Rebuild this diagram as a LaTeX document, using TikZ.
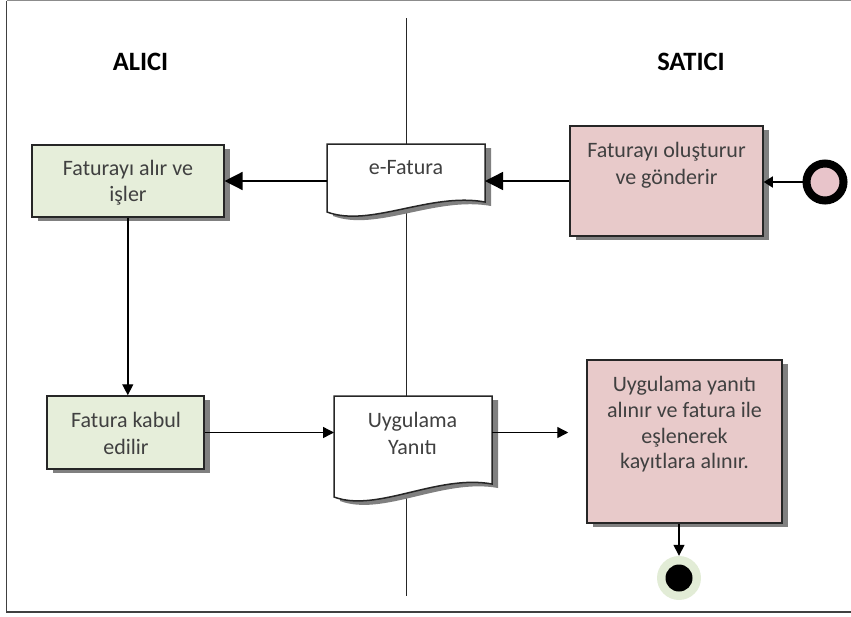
\documentclass[tikz,border=0pt]{standalone}
\usepackage{fontspec}
\setmainfont{Carlito}
\usetikzlibrary{arrows.meta,shadows}
\definecolor{boxgreen}{RGB}{230,238,218}
\definecolor{boxpink}{RGB}{232,202,202}
\definecolor{startpink}{RGB}{232,196,202}
\definecolor{endgreen}{RGB}{226,236,214}
\definecolor{txtgray}{RGB}{64,64,64}
\definecolor{shadowgray}{RGB}{128,128,128}
\begin{document}
\begin{tikzpicture}[x=1pt,y=-1pt,
 actbox/.style={draw=black!85, line width=1.5pt, inner sep=0pt,
   drop shadow={shadow xshift=6pt, shadow yshift=-4pt, opacity=1, fill=shadowgray}},
 bodytxt/.style={anchor=base, inner sep=0pt, text=txtgray, font=\fontsize{22}{26}\selectfont},
 titletxt/.style={anchor=base, inner sep=0pt, font=\fontsize{26.5}{30}\selectfont\bfseries},
 flow/.style={line width=1.4pt, -{Triangle[length=11pt,width=11pt]}},
 smallflow/.style={line width=1.4pt, -{Triangle[length=9pt,width=11pt]}},
 bigflow/.style={line width=1.4pt, -{Triangle[length=18pt,width=18pt]}},
 docpath/.style={draw=black!85, line width=1.5pt, fill=white},
 docshadow/.style={fill=shadowgray},
 anchorbox/.style={inner sep=0pt, outer sep=0pt},
]
\useasboundingbox (0,0) rectangle (851,616);
% frame
\draw[black!45, line width=1.2pt] (851,0.6) -- (6.5,0.6);
\draw[black!75, line width=1.3pt] (6.5,0.6) -- (6.5,612) -- (851,612);
% lane divider
\draw[black!85, line width=1.3pt] (406.7,18) -- (406.7,596);

% titles
\node[titletxt] (alici) at (140.5,70) {ALICI};
\node[titletxt] (satici) at (691,70) {SATICI};

% activity boxes
\node[actbox, fill=boxgreen, minimum width=192pt, minimum height=72pt] (b1) at (127.8,181) {};
\node[actbox, fill=boxgreen, minimum width=157pt, minimum height=73pt] (b2) at (125.5,432.5) {};
\node[actbox, fill=boxpink, minimum width=193pt, minimum height=110pt] (b3) at (666.5,181) {};
\node[actbox, fill=boxpink, minimum width=195pt, minimum height=163pt] (b4) at (684.5,441.5) {};

% documents
\node[anchorbox, minimum width=158pt, minimum height=68pt] (efat) at (406,178) {};
\begin{scope}[shift={(6,4)}]
\fill[docshadow] (327,144) -- (485,144) -- (485,202) .. controls (430,192) and (370,228) .. (327,212) -- cycle;
\end{scope}
\path[docpath] (327,144) -- (485,144) -- (485,202) .. controls (430,192) and (370,228) .. (327,212) -- cycle;

\node[anchorbox, minimum width=158pt, minimum height=88pt] (uyg) at (413,440) {};
\begin{scope}[shift={(6,4)}]
\fill[docshadow] (334,396) -- (492,396) -- (492,484) .. controls (437,474) and (377,513) .. (334,497) -- cycle;
\end{scope}
\path[docpath] (334,396) -- (492,396) -- (492,484) .. controls (437,474) and (377,513) .. (334,497) -- cycle;

% texts
\node[bodytxt] (t1a) at (128,175) {Faturayı alır ve};
\node[bodytxt] (t1b) at (128,201) {işler};
\node[bodytxt] (t2a) at (126,427) {Fatura kabul};
\node[bodytxt] (t2b) at (126,454) {edilir};
\node[bodytxt] (tea) at (406,174.5) {e-Fatura};
\node[bodytxt] (t3a) at (666.5,157) {Faturayı oluşturur};
\node[bodytxt] (t3b) at (666.5,184) {ve gönderir};
\node[bodytxt] (tua) at (412.5,427) {Uygulama};
\node[bodytxt] (tub) at (412.5,454) {Yanıtı};
\node[bodytxt] (t4a) at (684.5,391) {Uygulama yanıtı};
\node[bodytxt] (t4b) at (684.5,417) {alınır ve fatura ile};
\node[bodytxt] (t4c) at (684.5,443) {eşlenerek};
\node[bodytxt] (t4d) at (684.5,468) {kayıtlara alınır.};

% start and end
\node[circle, draw=black, line width=8pt, fill=startpink, minimum size=37pt, inner sep=0pt] (start) at (825,182) {};
\node[circle, fill=endgreen, minimum size=44pt, inner sep=0pt] (endc) at (679,578) {};
\node[circle, fill=black, minimum size=27pt, inner sep=0pt] (endin) at (679,578) {};

% connectors
\draw[smallflow] (start.west) -- (start.west -| b3.east);
\draw[bigflow] (b3.west) -- (b3.west -| efat.east);
\draw[bigflow] (efat.west |- b1.east) -- (b1.east);
\draw[flow] (b1.south) -- (b1.south |- b2.north);
\draw[flow] (b2.east) -- (b2.east -| uyg.west);
\draw[flow, shorten >=18pt] (uyg.east |- b2.east) -- (b2.east -| b4.west);
\draw[flow] (b4.south -| endc) -- (endc.north);
\end{tikzpicture}
\end{document}
